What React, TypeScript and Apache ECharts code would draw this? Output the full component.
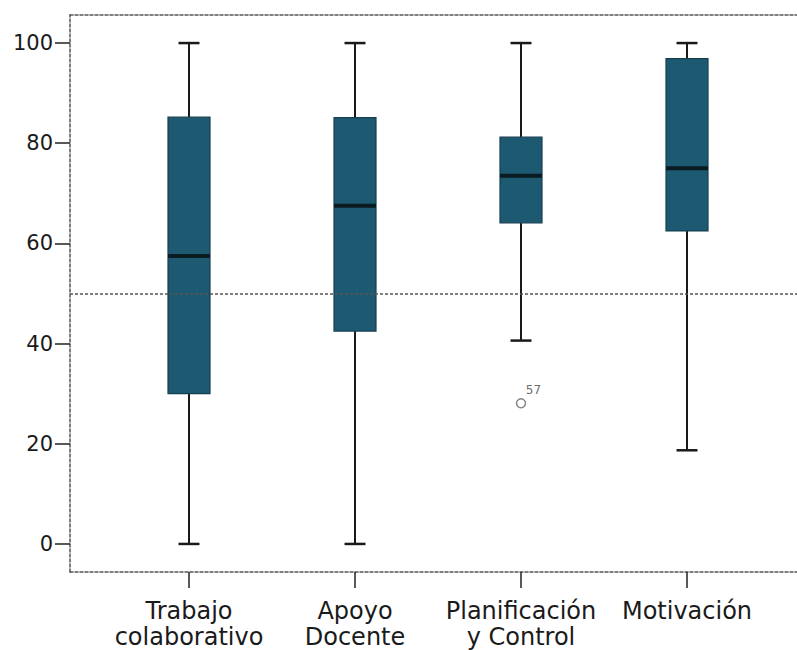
import React, { useEffect, useRef } from "react";
import * as echarts from "echarts";

const categories = ["Trabajo\ncolaborativo", "Apoyo\nDocente", "Planificación\ny Control", "Motivación"];
const mins = [0, 0, 40.6, 18.7];
const q1s = [30, 42.5, 64.1, 62.5];
const medians = [57.5, 67.5, 73.5, 75];
const q3s = [85.2, 85.1, 81.2, 96.9];
const maxs = [100, 100, 100, 100];
const outliers = [[2, 28.1]];
const outlierLabels = ["57"];
const yTicks = [0, 20, 40, 60, 80, 100];
const refLine = 50;

export default function App() {
  const ref = useRef<HTMLDivElement>(null);
  useEffect(() => {
    if (!ref.current) return;
    const chart = echarts.init(ref.current, null, { renderer: "svg" });
    const boxData = categories.map((_, i) => [i, mins[i], q1s[i], medians[i], q3s[i], maxs[i]]);
    const xMin = (70 - 189) / 166;
    const xMax = xMin + 731 / 166;
    const dashed = { type: [3, 2] as any, color: "#555", width: 1.5 };
    const font = "DejaVu Sans";
    chart.setOption({
      animation: false,
      grid: { left: 70, top: 15, right: -4, bottom: 78, containLabel: false, outerBoundsMode: "none" },
      xAxis: [
        {
          type: "value",
          min: xMin,
          max: xMax,
          position: "bottom",
          splitLine: { show: false },
          axisLine: { show: true, onZero: false, lineStyle: dashed },
          axisTick: {
            show: true,
            customValues: categories.map((_, i) => i),
            length: 16,
            lineStyle: { color: "#222", width: 1.5 },
          },
          axisLabel: {
            customValues: categories.map((_, i) => i),
            formatter: (v: number) => categories[Math.round(v)] ?? "",
            fontFamily: font,
            fontSize: 24,
            lineHeight: 26,
            color: "#1a1a1a",
            margin: 26,
            align: "center",
          },
        },
        {
          type: "value",
          min: xMin,
          max: xMax,
          position: "top",
          splitLine: { show: false },
          axisLine: { show: true, onZero: false, lineStyle: dashed },
          axisTick: { show: false },
          axisLabel: { show: false },
        },
      ],
      yAxis: {
        type: "value",
        min: -5.6,
        max: 105.6,
        position: "left",
        splitLine: { show: false },
        axisLine: { show: true, onZero: false, lineStyle: dashed },
        axisTick: {
          show: true,
          customValues: yTicks,
          length: 15,
          lineStyle: { color: "#222", width: 1.5 },
        },
        axisLabel: {
          customValues: yTicks,
          fontFamily: font,
          fontSize: 21,
          color: "#1a1a1a",
          margin: 17,
        },
      },
      series: [
        {
          type: "custom",
          xAxisIndex: 0,
          data: boxData,
          encode: { x: 0, y: [1, 2, 3, 4, 5] },
          renderItem: (params: any, api: any) => {
            const x = api.value(0);
            const pLo = api.coord([x, api.value(1)]);
            const pQ1 = api.coord([x, api.value(2)]);
            const pMed = api.coord([x, api.value(3)]);
            const pQ3 = api.coord([x, api.value(4)]);
            const pHi = api.coord([x, api.value(5)]);
            const cx = pLo[0];
            const bw = 42;
            const cw = 21;
            const wStyle = { stroke: "#1a1a1a", lineWidth: 2 };
            const cStyle = { stroke: "#1a1a1a", lineWidth: 2.5 };
            return {
              type: "group",
              children: [
                { type: "line", shape: { x1: cx, y1: pHi[1], x2: cx, y2: pQ3[1] }, style: wStyle },
                { type: "line", shape: { x1: cx, y1: pQ1[1], x2: cx, y2: pLo[1] }, style: wStyle },
                { type: "line", shape: { x1: cx - cw / 2, y1: pHi[1], x2: cx + cw / 2, y2: pHi[1] }, style: cStyle },
                { type: "line", shape: { x1: cx - cw / 2, y1: pLo[1], x2: cx + cw / 2, y2: pLo[1] }, style: cStyle },
                {
                  type: "rect",
                  shape: { x: cx - bw / 2, y: pQ3[1], width: bw, height: pQ1[1] - pQ3[1] },
                  style: { fill: "#1d5a72", stroke: "#163f50", lineWidth: 1.2 },
                },
                {
                  type: "line",
                  shape: { x1: cx - bw / 2, y1: pMed[1], x2: cx + bw / 2, y2: pMed[1] },
                  style: { stroke: "#0b1b22", lineWidth: 4 },
                },
              ],
            };
          },
          markLine: {
            silent: true,
            symbol: "none",
            label: { show: false },
            lineStyle: dashed,
            data: [{ yAxis: refLine }],
          },
          z: 3,
        },
        {
          type: "scatter",
          data: outliers,
          symbol: "circle",
          symbolSize: 9,
          itemStyle: { color: "#fff", borderColor: "#666", borderWidth: 1.5 },
          label: {
            show: true,
            formatter: (p: any) => outlierLabels[p.dataIndex],
            position: [10, -14],
            align: "left",
            verticalAlign: "top",
            fontFamily: font,
            fontSize: 12,
            color: "#444",
          },
          z: 4,
        },
      ],
    });
    return () => chart.dispose();
  }, []);
  return <div ref={ref} style={{ position: "absolute", left: 0, top: 0, width: 797, height: 650 }} />;
}
